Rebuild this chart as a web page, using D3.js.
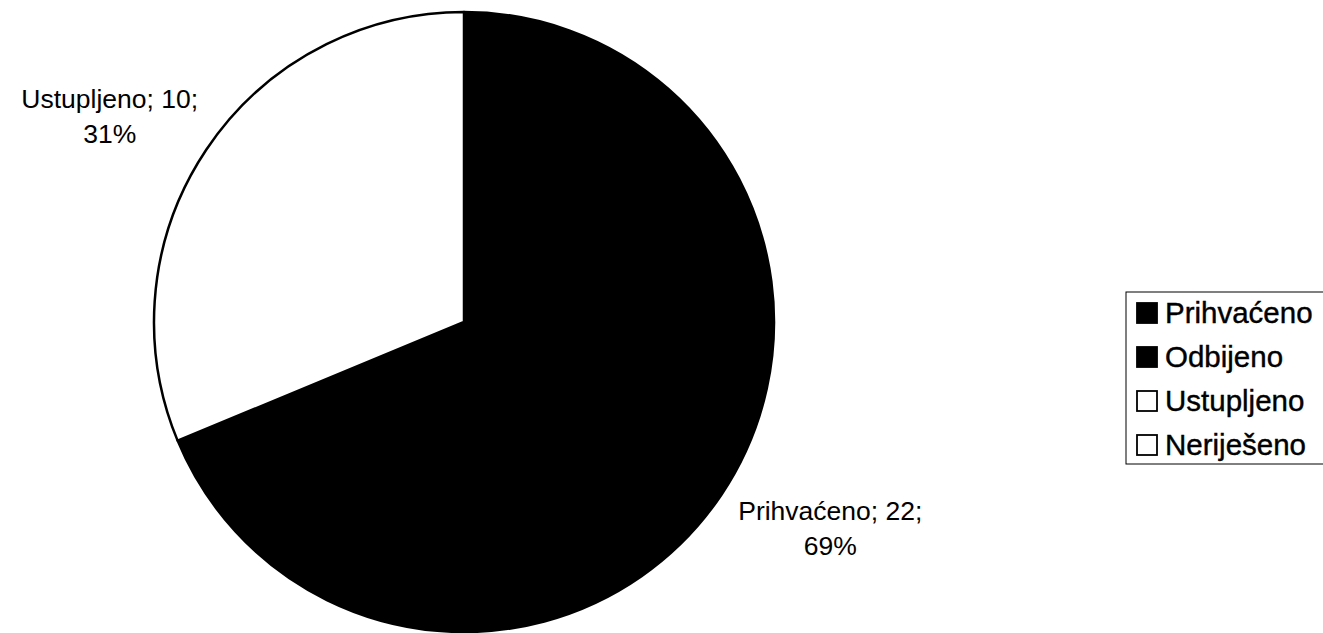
<!DOCTYPE html>
<html><head><meta charset="utf-8">
<script src="https://cdn.jsdelivr.net/npm/d3@7"></script>
<style>body{margin:0;background:#fff;overflow:hidden}svg{display:block}</style>
</head><body>
<svg id="c" width="1323" height="633"></svg>
<script>
const categories = ["Prihvaćeno", "Odbijeno", "Ustupljeno", "Neriješeno"];
const values = [22, 0, 10, 0];
const colors = ["#000000", "#000000", "#ffffff", "#ffffff"];

const svg = d3.select("#c");
const cx = 464, cy = 322, R = 310;
const total = d3.sum(values);
const data = categories.map((c, i) => ({name: c, value: values[i], color: colors[i]}));
const pie = d3.pie().value(d => d.value).sort(null);
const arcs = pie(data);
const arc = d3.arc().innerRadius(0).outerRadius(R);
const g = svg.append("g").attr("transform", `translate(${cx},${cy})`);
g.selectAll("path").data(arcs.filter(a => a.data.value > 0)).join("path")
  .attr("d", arc).attr("fill", d => d.data.color)
  .attr("stroke", "#000").attr("stroke-width", 2.5).attr("stroke-linejoin", "round");

// labels
const shift = -4 * Math.PI / 180;
const labelR = 415;
arcs.filter(a => a.data.value > 0).forEach(a => {
  const ang = (a.startAngle + a.endAngle) / 2 + shift;
  const x = labelR * Math.sin(ang) + 6, y = -labelR * Math.cos(ang);
  const pct = Math.round(a.data.value / total * 100) + "%";
  const t = g.append("text").attr("text-anchor", "middle")
    .attr("font-family", "Liberation Sans, Arial, sans-serif").attr("font-size", 26.5).attr("fill", "#000");
  t.append("tspan").attr("x", x).attr("y", y - 8).text(`${a.data.name}; ${a.data.value};`);
  t.append("tspan").attr("x", x).attr("y", y + 27).text(pct);
});

// legend
const lg = svg.append("g").attr("transform", "translate(1126,292)");
lg.append("rect").attr("x", 0).attr("y", 0).attr("width", 220).attr("height", 172)
  .attr("fill", "#fff").attr("stroke", "#000").attr("stroke-width", 1);
const ly = d3.scalePoint().domain(categories).range([21, 153]);
categories.forEach((c, i) => {
  const y = ly(c);
  lg.append("rect").attr("x", 11).attr("y", y - 10).attr("width", 20).attr("height", 20)
    .attr("fill", colors[i]).attr("stroke", "#000").attr("stroke-width", 1.8);
  lg.append("text").attr("x", 39).attr("y", y + 10)
    .attr("font-family", "Liberation Sans, Arial, sans-serif").attr("font-size", 29.5)
    .attr("fill", "#000").attr("stroke", "#000").attr("stroke-width", 0.4).text(c);
});
</script>
</body></html>
